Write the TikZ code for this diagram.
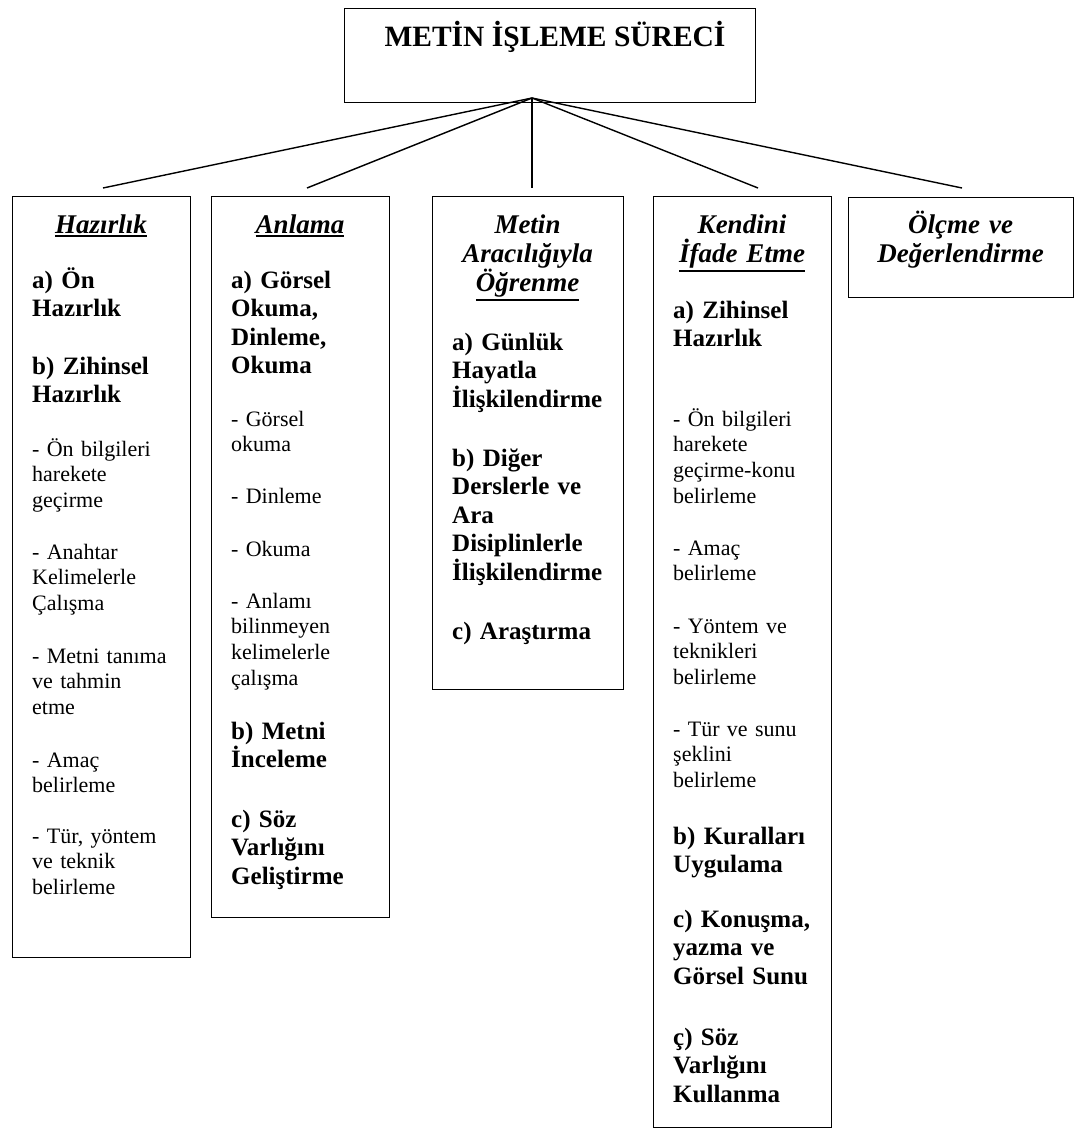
\documentclass[tikz,border=0pt]{standalone}
\usepackage{fontspec}
\setmainfont{Liberation Serif}
\newcommand\myul[1]{\setbox0\hbox{#1}\leavevmode\rlap{\rule[\dimexpr-\dp0-3.6pt\relax]{\wd0}{1.7pt}}\box0}
\begin{document}
\begin{tikzpicture}[x=1pt,y=-1pt,
  frame/.style={draw, line width=1.4pt, anchor=north west, inner sep=0pt},
  conn/.style={line width=1.4pt},
  ttl/.style={font=\fontsize{29.5}{34}\selectfont\bfseries, anchor=base, inner sep=0pt},
  head/.style={font=\fontsize{27}{29.2}\selectfont\bfseries\itshape, text width=210pt, align=center, anchor=base, inner sep=0pt},
  itm/.style={font=\fontsize{25}{28.6}\selectfont\bfseries, text width=165pt, align=left, anchor=base west, inner sep=0pt},
  sub/.style={font=\fontsize{22}{25.7}\selectfont, text width=160pt, align=left, anchor=base west, inner sep=0pt}]
\useasboundingbox (0,0) rectangle (1076,1129);
\fill[white] (0,0) rectangle (1076,1129);

% title
\node[frame, minimum width=411pt, minimum height=94pt] (top) at (344,8) {};
\node[ttl] (toptext) at (555,47) {METİN İŞLEME SÜRECİ};

% boxes
\node[frame, minimum width=178pt, minimum height=761pt] (hz) at (12,196) {};
\node[frame, minimum width=178pt, minimum height=721pt] (an) at (211,196) {};
\node[frame, minimum width=191pt, minimum height=493pt] (mt) at (432,196) {};
\node[frame, minimum width=178pt, minimum height=931pt] (kn) at (653,196) {};
\node[frame, minimum width=225pt, minimum height=100pt] (ol) at (848,197) {};

% connectors
\coordinate (hub) at (532,98);
\coordinate (hzE) at (103,188);
\coordinate (anE) at (307,188);
\coordinate (mtE) at (532,188);
\coordinate (knE) at (758,188);
\coordinate (olE) at (962,188);
\draw[conn] (hub) -- (hzE);
\draw[conn] (hub) -- (anE);
\draw[conn] (hub) -- (mtE);
\draw[conn] (hub) -- (knE);
\draw[conn] (hub) -- (olE);

% Hazirlik
\node[head] (hzT) at (101,233) {\myul{Hazırlık}};
\node[itm] (hz1) at (32,288) {a) Ön\\Hazırlık};
\node[itm] (hz2) at (32,374) {b) Zihinsel\\Hazırlık};
\node[sub] (hz3) at (32,456) {- Ön bilgileri\\harekete\\geçirme};
\node[sub] (hz4) at (32,559) {- Anahtar\\Kelimelerle\\Çalışma};
\node[sub] (hz5) at (32,663) {- Metni tanıma\\ve tahmin\\etme};
\node[sub] (hz6) at (32,767) {- Amaç\\belirleme};
\node[sub] (hz7) at (32,843) {- Tür, yöntem\\ve teknik\\belirleme};

% Anlama
\node[head] (anT) at (300,233) {\myul{Anlama}};
\node[itm] (an1) at (231,288) {a) Görsel\\Okuma,\\Dinleme,\\Okuma};
\node[sub] (an2) at (231,426) {- Görsel\\okuma};
\node[sub] (an3) at (231,503) {- Dinleme};
\node[sub] (an4) at (231,556) {- Okuma};
\node[sub] (an5) at (231,608) {- Anlamı\\bilinmeyen\\kelimelerle\\çalışma};
\node[itm] (an6) at (231,739) {b) Metni\\İnceleme};
\node[itm] (an7) at (231,827) {c) Söz\\Varlığını\\Geliştirme};

% Metin Araciligiyla
\node[head] (mtT) at (527.5,233) {Metin\\Aracılığıyla\\\myul{Öğrenme}};
\node[itm] (mt1) at (452,350) {a) Günlük\\Hayatla\\İlişkilendirme};
\node[itm] (mt2) at (452,466) {b) Diğer\\Derslerle ve\\Ara\\Disiplinlerle\\İlişkilendirme};
\node[itm] (mt3) at (452,639) {c) Araştırma};

% Kendini Ifade Etme
\node[head] (knT) at (742,233) {Kendini\\\myul{İfade Etme}};
\node[itm] (kn1) at (673,318) {a) Zihinsel\\Hazırlık};
\node[sub] (kn2) at (673,426) {- Ön bilgileri\\harekete\\geçirme-konu\\belirleme};
\node[sub] (kn3) at (673,555) {- Amaç\\belirleme};
\node[sub] (kn4) at (673,633) {- Yöntem ve\\teknikleri\\belirleme};
\node[sub] (kn5) at (673,736) {- Tür ve sunu\\şeklini\\belirleme};
\node[itm] (kn6) at (673,844) {b) Kuralları\\Uygulama};
\node[itm] (kn7) at (673,927) {c) Konuşma,\\yazma ve\\Görsel Sunu};
\node[itm] (kn8) at (673,1045) {ç) Söz\\Varlığını\\Kullanma};

% Olcme
\node[head] (olT) at (960.5,233) {Ölçme ve\\Değerlendirme};
\end{tikzpicture}
\end{document}
